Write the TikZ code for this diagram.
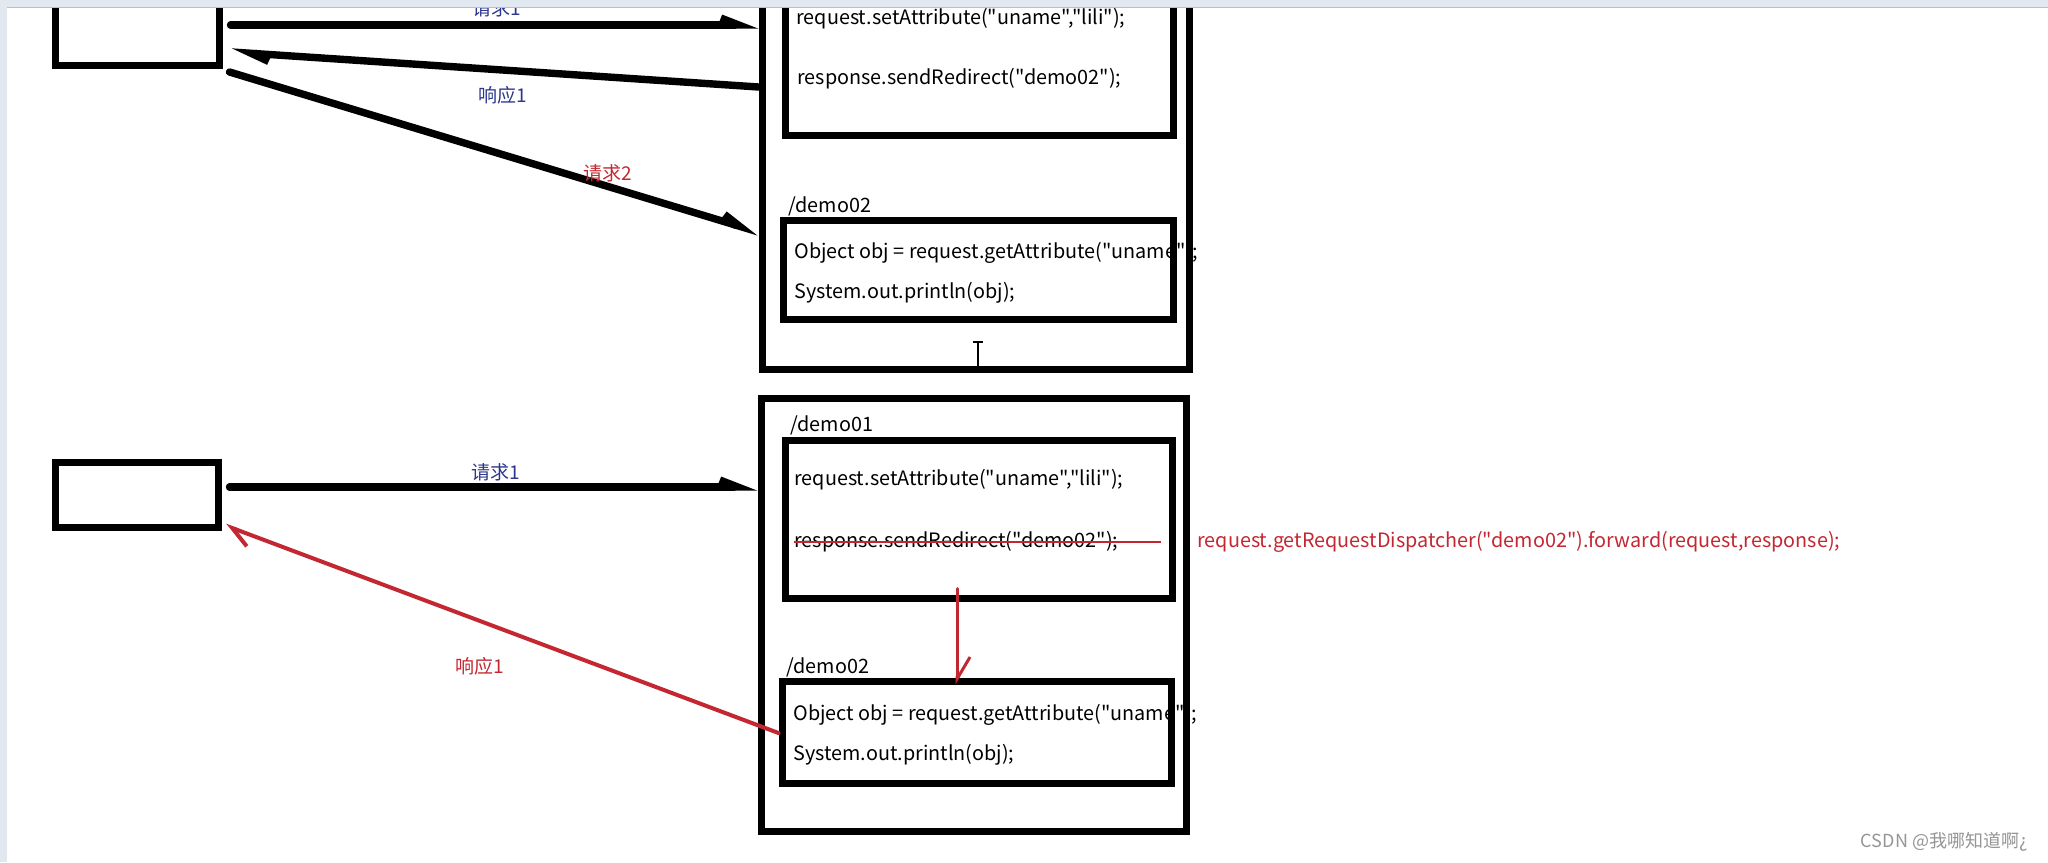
\documentclass[tikz,border=0pt]{standalone}
\usepackage{fontspec}
\newfontfamily\cjkfont{Noto Sans CJK SC}
\usetikzlibrary{arrows.meta,fit,calc}
\definecolor{lblue}{RGB}{45,55,140}
\definecolor{lred}{RGB}{195,40,50}
\definecolor{wmgray}{RGB}{150,150,150}
\definecolor{bandc}{RGB}{226,232,240}
\begin{document}
\begin{tikzpicture}[x=0.5pt,y=-0.5pt,
  box/.style={draw, line width=3.5pt, inner sep=0pt},
  code/.style={font=\cjkfont\fontsize{9.9}{11}\selectfont, anchor=west, inner sep=0pt, text=black},
  codered/.style={code, text=lred},
  lblblue/.style={font=\cjkfont\fontsize{9.5}{11}\selectfont, text=lblue, inner sep=0pt},
  lblred/.style={font=\cjkfont\fontsize{9.5}{11}\selectfont, text=lred, inner sep=0pt},
  blackarrow/.style={line width=3.7pt, line cap=round, -{Straight Barb[harpoon, length=9pt, width=7pt]}},
  redarrow/.style={draw=lred, line width=2pt, line cap=round, -{Straight Barb[harpoon, length=10pt, width=12pt]}},
  redarrowthin/.style={draw=lred, line width=1.5pt, line cap=round, -{Straight Barb[harpoon, length=11pt, width=13pt]}},
]
\useasboundingbox (0,0) rectangle (2048,862);
\clip (0,0) rectangle (2048,862);
\fill[white] (0,0) rectangle (2048,862);

% ---------- texts (drawn first, boxes overlap them) ----------
\node[code] (ta1) at (796,19) {request.setAttribute("uname","lili");};
\node[code] (ta2) at (797,79) {response.sendRedirect("demo02");};
\node[code] (tb0) at (788,206) {/demo02};
\node[code] (tb1) at (794,253) {Object obj = request.getAttribute("uname");};
\node[code] (tb2) at (794,293) {System.out.println(obj);};

\node[code] (tc0) at (790,425) {/demo01};
\node[code] (tc1) at (794,480) {request.setAttribute("uname","lili");};
\node[code] (tc2) at (794,542) {response.sendRedirect("demo02");};
\node[code] (td0) at (786,667) {/demo02};
\node[code] (td1) at (793,715) {Object obj = request.getAttribute("uname");};
\node[code] (td2) at (793,755) {System.out.println(obj);};
\node[codered] (fwd) at (1197,542) {request.getRequestDispatcher("demo02").forward(request,response);};

% ---------- boxes ----------
\node[box, fit={(55,-20) (219,65)}] (client1) {};
\node[box, fit={(762,-20) (1189,369)}] (outerTop) {};
\node[box, fit={(785,-20) (1173,135)}] (innerA) {};
\node[box, fit={(783,220) (1173,319)}] (innerB) {};

\node[box, fit={(55,462) (218,527)}] (client2) {};
\node[box, fit={(761,398) (1186,831)}] (outerBot) {};
\node[box, fit={(785,440) (1172,598)}] (innerC) {};
\node[box, fit={(782,681) (1171,783)}] (innerD) {};

% strike-through of the redirect line
\draw[lred, line width=1pt] (tc2.west) -- ++(367,0);

% ---------- top arrows ----------
\draw[blackarrow] ($(client1.east|-0,25)+(8,0)$) -- (outerTop.west|-0,25);
\draw[blackarrow] (outerTop.west|-0,87) -- ($(client1.east|-0,52)+(9,0)$);
\draw[blackarrow] ($(client1.east|-0,72)+(7,0)$) -- (outerTop.west|-0,232);
\node[lblblue] (l1) at (497,8) {请求1};
\node[lblblue] (l2) at (503,95) {响应1};
\node[lblred] (l3) at (608,173) {请求2};

% ---------- bottom arrows ----------
\draw[blackarrow] ($(client2.east)+(8,-7.5)$) -- (outerBot.west|-0,487);
\draw[redarrow] (innerD.west|-0,733) -- ($(client2.south east)+(4,-5)$);
\coordinate (fx) at (957,0);
\draw[redarrowthin] ($(fx|-innerC.south)+(0,-13)$) -- ($(fx|-innerD.north)+(0,7)$);
\node[lblblue] (l4) at (496,472) {请求1};
\node[lblred] (l5) at (480,666) {响应1};

% ---------- text cursor ----------
\draw[line width=1pt] (978,343) -- (978,366);
\draw[line width=1pt] (973,342) -- (983,342);
\draw[line width=1pt] (973,367) -- (983,367);

% ---------- window edges ----------
\fill[bandc] (0,0) rectangle (2048,7);
\draw[gray!50, line width=0.5pt] (0,7) -- (2048,7);
\fill[bandc] (0,7) rectangle (7,862);

% ---------- watermark ----------
\node[font=\cjkfont\fontsize{9}{11}\selectfont, text=wmgray, anchor=east, inner sep=0pt] (wm) at (2028,842) {CSDN @我哪知道啊¿};
\end{tikzpicture}
\end{document}
